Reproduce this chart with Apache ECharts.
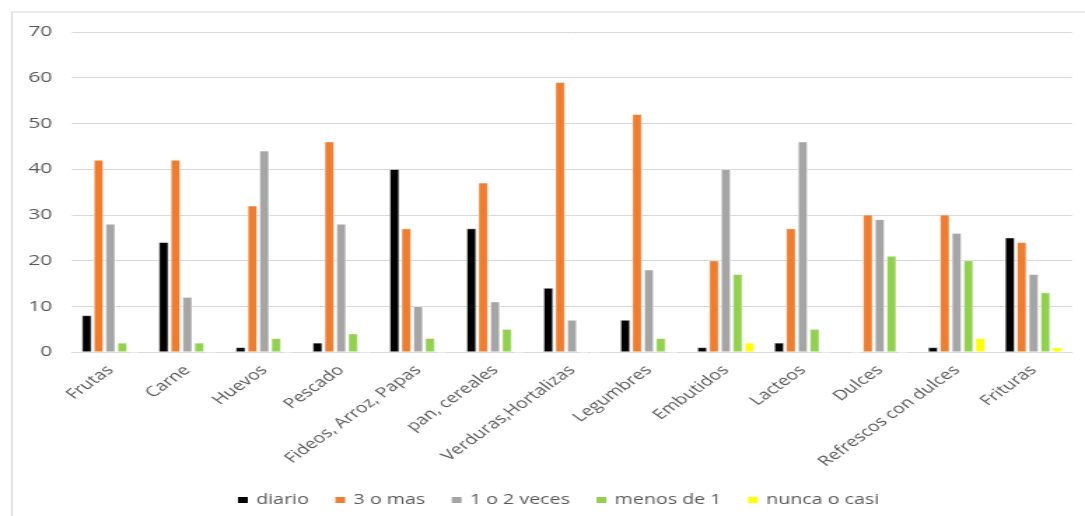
<!DOCTYPE html>
<html>
<head>
<meta charset="utf-8">
<script src="https://cdn.jsdelivr.net/npm/echarts@6/dist/echarts.min.js"></script>
<style>
  html, body { margin: 0; padding: 0; background: #fff; overflow: hidden; }
  /* the chart is laid out narrow and widened horizontally */
  #chart { width: 775px; height: 516px; transform: scaleX(1.4); transform-origin: 0 0; }
</style>
</head>
<body>
<div id="chart"></div>
<script>
const categories = ['Frutas', 'Carne', 'Huevos', 'Pescado', 'Fideos, Arroz, Papas', 'pan, cereales',
  'Verduras,Hortalizas', 'Legumbres', 'Embutidos', 'Lacteos', 'Dulces', 'Refrescos con dulces', 'Frituras'];

const diario      = [8, 24, 1, 2, 40, 27, 14, 7, 1, 2, 0, 1, 25];
const tresOMas    = [42, 42, 32, 46, 27, 37, 59, 52, 20, 27, 30, 30, 24];
const unoODos     = [28, 12, 44, 28, 10, 11, 7, 18, 40, 46, 29, 26, 17];
const menosDeUno  = [2, 2, 3, 4, 3, 5, 0, 3, 17, 5, 21, 20, 13];
const nuncaOCasi  = [0, 0, 0, 0, 0, 0, 0, 0, 2, 0, 0, 3, 1];

const seriesNames = ['diario', '3 o mas', '1 o 2 veces', 'menos de 1', 'nunca o casi'];
const seriesData = [diario, tresOMas, unoODos, menosDeUno, nuncaOCasi];
const seriesColors = ['#000000', '#ED7D31', '#A5A5A5', '#92D050', '#FFFF00'];

const yTicks = { min: 0, max: 70, interval: 10 };

const font = '"Open Sans", "DejaVu Sans", sans-serif';
const textGrey = '#595959';

const chart = echarts.init(document.getElementById('chart'), null, { renderer: 'canvas' });

chart.setOption({
  animation: false,
  backgroundColor: '#ffffff',
  graphic: [{
    type: 'rect',
    shape: { x: 8.5, y: 12, width: 900, height: 700 },
    style: { fill: 'none', stroke: '#d9d9d9', lineWidth: 1.2 },
    silent: true
  }],
  grid: { left: 51.4, right: 9.3, top: 32, bottom: 164, containLabel: false },
  legend: {
    data: seriesNames,
    left: 163,
    top: 488,
    itemWidth: 9,
    itemHeight: 8,
    itemGap: 17,
    icon: 'rect',
    textStyle: { color: textGrey, fontSize: 14, fontFamily: font }
  },
  xAxis: {
    type: 'category',
    data: categories,
    axisLine: { show: true, lineStyle: { color: '#d9d9d9', width: 1 } },
    axisTick: { show: false },
    axisLabel: {
      rotate: 45,
      interval: 0,
      margin: 16,
      color: textGrey,
      fontSize: 14,
      fontFamily: font
    }
  },
  yAxis: {
    type: 'value',
    min: yTicks.min,
    max: yTicks.max,
    interval: yTicks.interval,
    axisLine: { show: false },
    axisTick: { show: false },
    splitLine: { lineStyle: { color: '#d9d9d9', width: 1 } },
    axisLabel: { color: textGrey, fontSize: 15, fontFamily: font, margin: 14 }
  },
  series: seriesNames.map((name, i) => ({
    name,
    type: 'bar',
    data: seriesData[i],
    barCategoryGap: '26%',
    barGap: '24%',
    itemStyle: { color: seriesColors[i], borderColor: '#ffffff', borderWidth: 0.5 }
  }))
});
</script>
</body>
</html>
